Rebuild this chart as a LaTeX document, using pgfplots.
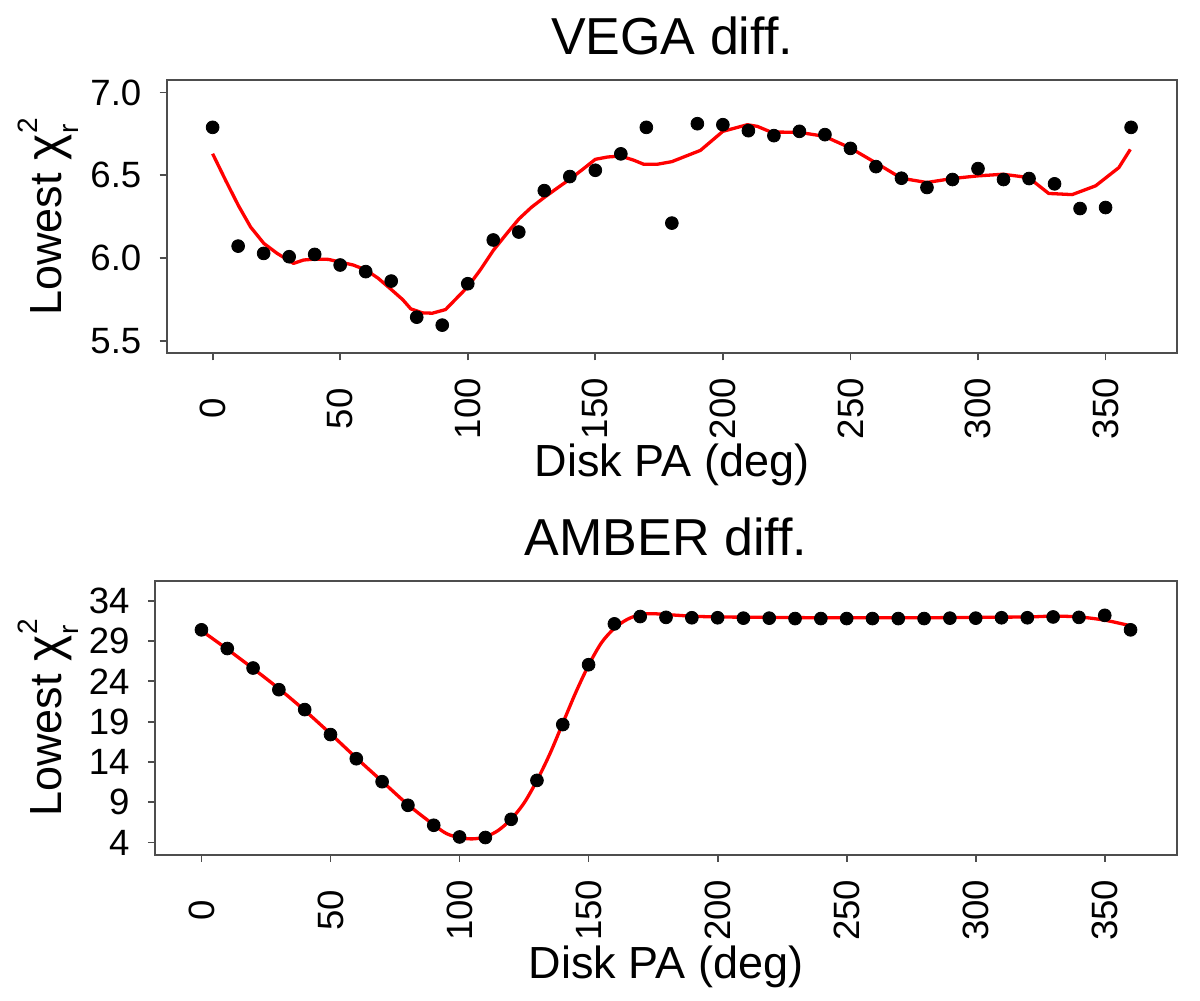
\documentclass[border=0pt]{standalone}
\usepackage{pgfplots}
\pgfplotsset{compat=1.18}
\usepackage{fontspec}
\setmainfont{Liberation Sans}
\definecolor{frame}{RGB}{77,77,77}
\newcommand{\chir}{Lowest {\fontsize{25}{26}\selectfont χ}\kern0.5pt\rlap{\raisebox{-8.3pt}{\fontsize{14}{15}\selectfont r}}\raisebox{12pt}{\fontsize{14}{15}\selectfont 2}}
\pgfplotsset{myax/.style={
  scale only axis, anchor=south west,
  xmin=-18, xmax=378,
  axis line style={draw=frame, line width=0.9pt},
  every tick/.style={draw=frame, line width=0.9pt},
  major tick length=3.5pt,
  tick align=outside,
  xtick pos=bottom, ytick pos=left,
  minor tick num=0,
  xtick={0,50,100,150,200,250,300,350},
  ticklabel style={font=\fontsize{18.3}{21}\selectfont, text=black},
  xticklabel style={yshift=-24.2pt, rotate=90, anchor=center, inner sep=0pt},
  yticklabel style={anchor=east, inner sep=0pt, xshift=-9pt},
  /pgf/number format/assume math mode=true,
}}
\begin{document}
\begin{tikzpicture}
\path[use as bounding box] (0,0) rectangle (600pt,500.5pt);
% ---------------- VEGA ----------------
\begin{axis}[myax, at={(83.35pt,323.85pt)}, width=505.15pt, height=136.65pt,
  ymin=5.425, ymax=7.075,
  ytick={5.5,6,6.5,7}, yticklabels={5.5,6.0,6.5,7.0}]
\addplot[only marks, mark=*, mark size=3.2pt, mark options={draw=black, fill=black}] coordinates {
(0,6.789) (10,6.072) (20,6.028) (30,6.008) (40,6.022) (50,5.958) (60,5.918) (70,5.861)
(80,5.643) (90,5.595) (100,5.845) (110,6.109) (120,6.157) (130,6.407) (140,6.492)
(150,6.530) (160,6.629) (170,6.789) (180,6.211) (190,6.811) (200,6.805) (210,6.769)
(220,6.739) (230,6.765) (240,6.745) (250,6.662) (260,6.552) (270,6.482) (280,6.426)
(290,6.474) (300,6.540) (310,6.474) (320,6.480) (330,6.448) (340,6.299) (350,6.305)
(360,6.789)};
\addplot[draw=red, line width=1.65pt, line join=round] coordinates {
(0,6.630) (5.2,6.466) (10.1,6.317) (14.9,6.187) (20.1,6.088) (25.3,6.028) (31.7,5.968)
(35.6,5.988) (40.2,5.994) (45.3,5.992) (50,5.976) (55.1,5.958) (60.1,5.928) (64.8,5.879)
(70.1,5.809) (74.5,5.749) (77.7,5.693) (82.3,5.669) (86.1,5.667) (91.3,5.689) (100.1,5.828)
(104.9,5.928) (110.1,6.048) (115.3,6.148) (120.1,6.237) (125,6.307) (130,6.366)
(135.4,6.426) (140,6.476) (145.1,6.536) (150,6.596) (154.8,6.610) (160,6.616)
(165.2,6.590) (169,6.566) (174.2,6.566) (180,6.582) (191.2,6.650) (200,6.765)
(209.6,6.805) (213.5,6.795) (218.8,6.761) (229.9,6.759) (239.8,6.735) (249.9,6.665)
(259.8,6.576) (270,6.482) (279.9,6.456) (289.9,6.480) (299.9,6.496) (309.8,6.506)
(319.8,6.486) (327.7,6.390) (336.9,6.383) (346.1,6.436) (355.2,6.546) (359.7,6.656)};
\end{axis}
% ---------------- AMBER ----------------
\begin{axis}[myax, at={(77.5pt,73pt)}, width=511pt, height=137.15pt,
  ymin=2.45, ymax=36.5,
  ytick={4,9,14,19,24,29,34}]
\addplot[only marks, mark=*, mark size=3.2pt, mark options={draw=black, fill=black}] coordinates {
(0,30.4) (10,28.08) (20,25.66) (30,22.97) (40,20.50) (50,17.40) (60,14.40) (70,11.55)
(80,8.62) (90,6.14) (100,4.69) (110,4.62) (120,6.88) (130,11.71) (140,18.64) (150,26.07)
(160,31.14) (170,32.05) (180,31.95) (190,31.9) (200,31.9) (210,31.85) (220,31.85)
(230,31.8) (240,31.8) (250,31.8) (260,31.8) (270,31.8) (280,31.8) (290,31.85) (300,31.85)
(310,31.9) (320,31.9) (330,32.0) (340,31.95) (350,32.2) (360,30.4)};
\addplot[draw=red, line width=1.65pt, line join=round, smooth] coordinates {
(0,30.3) (10,28.0) (20,25.6) (30,23.1) (40,20.4) (50,17.5) (60,14.5) (70,11.6) (80,8.7)
(90,6.2) (95,5.1) (100,4.6) (105,4.45) (110,4.7) (115,5.5) (120,6.9) (125,8.9) (130,11.7)
(135,15.0) (140,18.8) (145,22.6) (150,26.0) (155,28.8) (160,30.6) (165,31.7) (170,32.3)
(175,32.4) (180,32.3) (190,32.1) (200,32.0) (220,31.95) (240,31.9) (260,31.9) (280,31.9)
(300,31.95) (320,32.0) (330,32.1) (340,32.0) (350,31.6) (360,30.9)};
\end{axis}
% ---------------- titles and labels ----------------
\node[anchor=base, font=\fontsize{26}{30}\selectfont] at (336pt,473.35pt) {VEGA diff.};
\node[anchor=base, font=\fontsize{22.5}{26}\selectfont] at (336pt,262.15pt) {Disk PA (deg)};
\node[rotate=90, anchor=base, font=\fontsize{22.5}{26}\selectfont] at (30.85pt,392.15pt) {\chir};
\node[anchor=base, font=\fontsize{26}{30}\selectfont] at (333pt,222.5pt) {AMBER diff.};
\node[anchor=base, font=\fontsize{22.5}{26}\selectfont] at (333pt,11.35pt) {Disk PA (deg)};
\node[rotate=90, anchor=base, font=\fontsize{22.5}{26}\selectfont] at (30.85pt,141.55pt) {\chir};
\end{tikzpicture}
\end{document}
